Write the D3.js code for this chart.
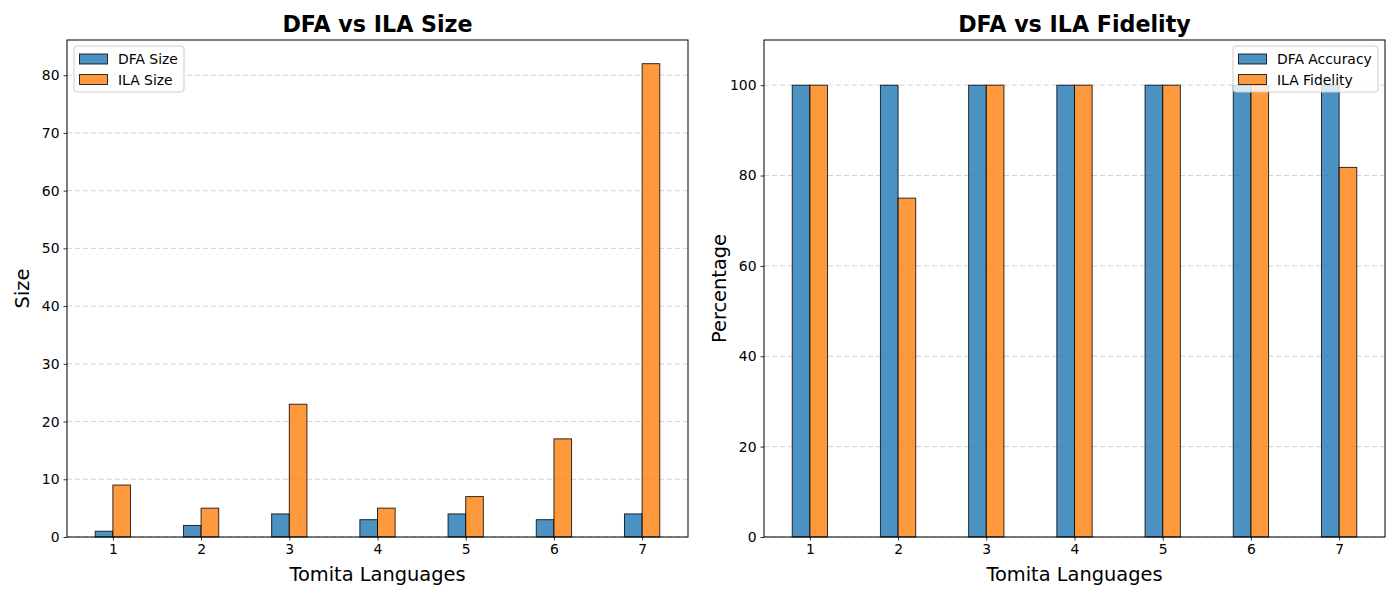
<!DOCTYPE html>
<html>
<head>
<meta charset="utf-8">
<script src="https://cdn.jsdelivr.net/npm/d3@7"></script>
<style>
  body { margin: 0; background: #fff; }
  text { font-family: "DejaVu Sans", sans-serif; }
</style>
</head>
<body>
<script>
// data
const languages = [1, 2, 3, 4, 5, 6, 7];
const dfaSize = [1, 2, 4, 3, 4, 3, 4];
const ilaSize = [9, 5, 23, 5, 7, 17, 82];
const dfaAccuracy = [100, 100, 100, 100, 100, 100, 100];
const ilaFidelity = [100, 75, 100, 100, 100, 100, 81.8];
const sizeTicks = [0, 10, 20, 30, 40, 50, 60, 70, 80];
const pctTicks = [0, 20, 40, 60, 80, 100];

const blue = '#1f77b4', orange = '#ff7f0e';
const W = 1400, H = 600;

const svg = d3.select('body').append('svg')
  .attr('width', W).attr('height', H);

//draw one panel
function panel(opts) {
  const { left, right, top, bottom, title, ylabel, ymax, ticks, s1, s2, n1, n2, legendRight } = opts;

  const x = d3.scaleLinear().domain([0.48, 7.52]).range([left, right]);
  const y = d3.scaleLinear().domain([0, ymax]).range([bottom, top]);
  const g = svg.append('g');
  const bw = x(0.2) - x(0);

  // grid
  g.selectAll('.grid').data(ticks).enter().append('line')
    .attr('x1', left).attr('x2', right)
    .attr('y1', d => y(d)).attr('y2', d => y(d))
    .attr('stroke', '#b0b0b0').attr('stroke-opacity', 0.7)
    .attr('stroke-dasharray', '5,3').attr('stroke-width', 0.8);

  // bars
  const series = [[s1, blue, -1], [s2, orange, 0]];
  series.forEach(([vals, col, off]) => {
    g.selectAll(null).data(vals).enter().append('rect')
      .attr('x', (d, i) => x(languages[i] + off * 0.2))
      .attr('width', bw)
      .attr('y', d => y(d))
      .attr('height', d => bottom - y(d))
      .attr('fill', col).attr('fill-opacity', 0.8)
      .attr('stroke', 'black').attr('stroke-opacity', 0.8).attr('stroke-width', 1);
  });

  // axes
  const xa = g.append('g').attr('transform', `translate(0,${bottom})`)
    .call(d3.axisBottom(x).tickValues(languages).tickSize(3.5).tickPadding(4).tickFormat(d3.format('d')));
  const ya = g.append('g').attr('transform', `translate(${left},0)`)
    .call(d3.axisLeft(y).tickValues(ticks).tickSize(3.5).tickPadding(4));
  [xa, ya].forEach(a => {
    a.select('.domain').remove();
    a.selectAll('text').attr('font-size', 13.9).attr('fill', '#000');
    a.selectAll('line').attr('stroke', '#000').attr('stroke-width', 0.8);
  });

  g.append('rect').attr('x', left).attr('y', top)
    .attr('width', right - left).attr('height', bottom - top)
    .attr('fill', 'none').attr('stroke', '#000').attr('stroke-width', 1);

  // titles
  g.append('text').attr('x', (left + right) / 2).attr('y', top - 8)
    .attr('text-anchor', 'middle').attr('font-size', 22.2).attr('font-weight', 'bold')
    .text(title);
  g.append('text').attr('x', (left + right) / 2).attr('y', bottom + 44)
    .attr('text-anchor', 'middle').attr('font-size', 19.4).text('Tomita Languages');
  g.append('text')
    .attr('transform', `translate(${left - 38},${(top + bottom) / 2}) rotate(-90)`)
    .attr('text-anchor', 'middle').attr('font-size', 19.4).text(ylabel);

  // legend
  const lw = legendRight ? 145 : 110;
  const lx = legendRight ? right - 7 - lw : left + 7;
  const lg = g.append('g').attr('transform', `translate(${lx},${top + 6})`);
  lg.append('rect').attr('width', lw).attr('height', 46).attr('rx', 3)
    .attr('fill', '#fff').attr('fill-opacity', 0.8)
    .attr('stroke', '#ccc').attr('stroke-width', 1);
  [[n1, blue], [n2, orange]].forEach(([name, col], i) => {
    lg.append('rect').attr('x', 5.5).attr('y', 8 + i * 20.5).attr('width', 28).attr('height', 10)
      .attr('fill', col).attr('fill-opacity', 0.8)
      .attr('stroke', 'black').attr('stroke-opacity', 0.8);
    lg.append('text').attr('x', 44).attr('y', 18 + i * 20.5)
      .attr('font-size', 13.9).text(name);
  });
}

panel({ left: 67, right: 688, top: 40, bottom: 537, title: 'DFA vs ILA Size', ylabel: 'Size',
  ymax: 86.1, ticks: sizeTicks, s1: dfaSize, s2: ilaSize, n1: 'DFA Size', n2: 'ILA Size', legendRight: false });
panel({ left: 764, right: 1385, top: 40, bottom: 537, title: 'DFA vs ILA Fidelity', ylabel: 'Percentage',
  ymax: 110, ticks: pctTicks, s1: dfaAccuracy, s2: ilaFidelity, n1: 'DFA Accuracy', n2: 'ILA Fidelity', legendRight: true });
</script>
</body>
</html>
